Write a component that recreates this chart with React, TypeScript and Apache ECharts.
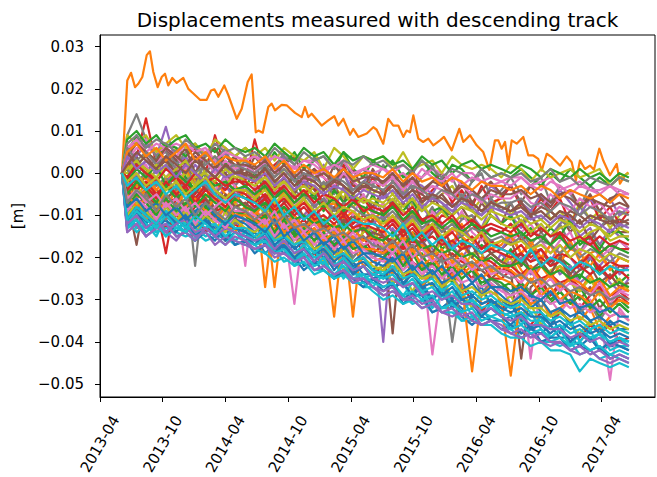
import React, { useEffect, useRef } from "react";
import * as echarts from "echarts";

const TITLE = "Displacements measured with descending track";
const Y_NAME = "[m]";
// x positions are months since 2013-04-01
const X_TICKS = [0, 6, 12, 18, 24, 30, 36, 42, 48];
const X_TICK_LABELS = ["2013-04", "2013-10", "2014-04", "2014-10", "2015-04", "2015-10", "2016-04", "2016-10", "2017-04"];
const Y_TICKS = [-0.05, -0.04, -0.03, -0.02, -0.01, 0, 0.01, 0.02, 0.03];
const Y_TICK_LABELS = ["\u22120.05", "\u22120.04", "\u22120.03", "\u22120.02", "\u22120.01", "0.00", "0.01", "0.02", "0.03"];
const COLORS = ["#1f77b4", "#ff7f0e", "#2ca02c", "#d62728", "#9467bd", "#8c564b", "#e377c2", "#7f7f7f", "#bcbd22", "#17becf"];

// acquisition dates (months since 2013-04-01) for the point band
const GRID_MONTHS = [2.1, 2.6, 3.5, 4.4, 5.4, 6.3, 7.3, 8.2, 9.1, 10.1, 11.0, 12.0, 12.9, 13.9, 14.8, 15.8, 16.7, 17.6, 18.6, 19.5, 20.5, 21.4, 22.4, 23.3, 24.2, 25.2, 26.1, 27.1, 28.0, 29.0, 29.9, 30.8, 31.8, 32.7, 33.7, 34.6, 35.6, 36.5, 37.4, 38.4, 39.3, 40.3, 41.2, 42.2, 43.1, 44.0, 45.0, 45.9, 46.9, 47.8, 48.8, 49.7, 50.6];

// the isolated point (orange, drawn as series 1)
const ORANGE_MONTHS = [2.1, 2.61, 2.97, 3.35, 3.66, 4.05, 4.47, 4.78, 5.10, 5.52, 5.90, 6.22, 6.53, 6.92, 7.34, 7.97, 8.45, 8.93, 9.57, 10.21, 10.62, 10.94, 11.32, 11.89, 12.28, 13.08, 13.56, 14.13, 14.51, 14.90, 15.15, 15.57, 16.10, 16.43, 16.74, 17.38, 17.86, 18.66, 19.30, 19.61, 19.93, 20.25, 21.21, 21.84, 22.42, 22.80, 23.28, 23.92, 24.23, 24.71, 25.52, 26.15, 26.47, 27.10, 27.58, 28.06, 28.54, 29.02, 29.34, 29.66, 29.98, 30.45, 30.93, 31.41, 31.89, 32.53, 32.91, 33.65, 34.38, 34.76, 35.40, 36.04, 36.67, 37.25, 37.79, 38.11, 38.43, 38.75, 39.06, 39.39, 39.87, 40.50, 40.98, 41.46, 41.93, 42.26, 42.74, 43.22, 44.01, 44.65, 45.13, 45.54, 45.92, 46.40, 46.88, 47.26, 47.77, 48.15, 48.79, 49.44, 49.75, 50.23, 50.54];
const ORANGE_MM = [0, 22.0, 23.8, 20.4, 21.2, 22.8, 28.0, 28.9, 24.0, 20.4, 22.8, 23.6, 20.8, 22.6, 21.4, 22.6, 20.0, 18.9, 17.4, 17.4, 19.6, 19.9, 18.1, 20.8, 18.5, 12.9, 15.3, 21.6, 23.4, 9.7, 10.1, 9.6, 15.7, 16.5, 14.9, 16.2, 16.1, 14.3, 13.3, 15.7, 13.3, 14.1, 11.3, 12.5, 13.5, 11.3, 12.9, 9.1, 10.5, 8.6, 9.4, 10.9, 10.3, 7.0, 12.9, 11.3, 11.3, 8.6, 10.1, 9.7, 13.7, 8.2, 7.4, 8.2, 6.6, 7.8, 8.6, 5.4, 10.5, 7.4, 9.0, 6.6, 5.0, 0.8, 7.8, 7.8, 5.8, 7.4, 2.2, 7.8, 7.0, 8.6, 4.2, 4.2, 3.4, 0.6, 4.6, 3.8, 1.8, 4.0, 2.6, -1.7, 3.0, 1.0, 1.8, 0.8, 5.8, 3.0, -0.5, 2.2, -2.5, -0.5, 0.2];

// band points, displacement in mm at GRID_MONTHS
const S00 = [0, -10, -13, -10, -14, -13, -12, -14, -16, -13, -14, -16, -14, -16, -15, -19, -17, -19, -17, -22, -21, -21, -24, -23, -23, -26, -25, -27, -26, -30, -28, -27, -31, -32, -30, -32, -35, -32, -35, -35, -34, -38, -37, -38, -36, -39, -39, -41, -39, -42, -41, -41, -42];
const S02 = [0, -5, -2, -4, -1, -6, -4, -1, -6, -8, -4, -7, -4, -6, -5, -9, -6, -11, -9, -6, -11, -12, -10, -14, -10, -12, -15, -11, -14, -17, -14, -16, -12, -18, -16, -15, -20, -17, -19, -21, -18, -22, -18, -21, -24, -20, -22, -25, -20, -24, -22, -26, -24];
const S03 = [0, -9, -13, -8, -11, -13, -10, -12, -9, -14, -12, -16, -12, -14, -12, -16, -19, -15, -14, -20, -19, -22, -19, -19, -24, -22, -24, -22, -26, -25, -23, -27, -30, -27, -30, -27, -30, -33, -30, -32, -31, -35, -36, -33, -36, -33, -35, -39, -36, -38, -36, -40, -39];
const S04 = [0, 3, -1, 3, 0, 4, 1, -2, 2, -1, -5, 0, 2, -3, 0, -2, -6, -2, -4, -1, -6, -4, -9, -3, -7, -5, -9, -5, -8, -4, -10, -8, -11, -8, -7, -11, -10, -13, -8, -12, -10, -13, -10, -13, -15, -12, -10, -15, -13, -17, -13, -15, -15];
const S05 = [0, -6, -17, -4, -8, -6, -4, -9, -6, -11, -8, -6, -11, -8, -13, -9, -12, -9, -14, -13, -16, -12, -15, -18, -15, -18, -15, -19, -17, -22, -17, -20, -22, -20, -24, -20, -23, -23, -25, -23, -23, -44, -27, -25, -29, -27, -25, -30, -27, -32, -29, -28, -30];
const S06 = [0, -5, -9, -11, -7, -11, -7, -9, -13, -9, -12, -8, -12, -11, -14, -10, -14, -13, -17, -15, -13, -18, -16, -21, -16, -20, -20, -18, -23, -21, -23, -20, -43, -26, -24, -28, -26, -24, -29, -27, -31, -28, -31, -28, -30, -33, -30, -33, -30, -33, -49, -32, -35];
const S07 = [0, 3, -1, -3, 1, 3, -3, -1, -22, 0, -4, -1, -5, -3, -5, -2, -4, -7, -4, -6, -3, -8, -7, -11, -5, -9, -7, -8, -12, -7, -10, -12, -8, -12, -14, -11, -10, -14, -13, -14, -12, -14, -17, -14, -17, -12, -17, -19, -14, -17, -19, -16, -18];
const S08 = [0, 5, 1, 5, 3, 1, 6, 1, -2, 3, 4, -1, 1, 4, -2, 1, -3, 1, -1, -5, -1, 1, -3, -6, -1, -3, -5, -2, -5, -3, -8, -3, -7, -5, -3, -7, -9, -6, -9, -5, -10, -7, -9, -5, -11, -9, -12, -7, -11, -9, -13, -10, -9];
const S09 = [0, -11, -14, -12, -14, -13, -14, -15, -14, -16, -15, -15, -17, -16, -17, -19, -18, -21, -20, -20, -23, -23, -25, -24, -25, -27, -27, -29, -28, -29, -31, -30, -33, -32, -32, -35, -35, -36, -35, -37, -37, -39, -38, -40, -40, -41, -40, -43, -42, -44, -43, -44, -45];
const S10 = [0, -13, -9, -12, -9, -11, -14, -11, -15, -11, -13, -15, -13, -15, -14, -17, -14, -18, -21, -17, -21, -18, -21, -24, -21, -24, -24, -25, -23, -26, -29, -26, -30, -26, -30, -33, -29, -31, -30, -33, -31, -35, -37, -35, -33, -38, -35, -40, -37, -36, -41, -39, -40];
const S11 = [0, 1, -3, -1, -5, -2, 1, -4, -1, -6, -4, -6, -3, -5, -4, -27, -8, -4, -8, -10, -7, -5, -11, -9, -12, -8, -11, -9, -12, -15, -11, -15, -10, -13, -17, -12, -16, -14, -18, -17, -14, -19, -17, -21, -17, -19, -16, -21, -19, -18, -23, -20, -21];
const S12 = [0, -8, -6, -10, -5, -8, -10, -7, -6, -11, -9, -13, -9, -11, -9, -13, -12, -10, -14, -17, -14, -17, -14, -16, -20, -17, -19, -17, -21, -23, -20, -19, -24, -22, -26, -23, -21, -27, -25, -27, -26, -29, -25, -29, -31, -28, -31, -27, -31, -34, -31, -30, -32];
const S13 = [0, 2, 4, 13, 2, 6, -1, 4, 6, 0, 9, 1, 4, -2, 8, -1, 2, 4, -1, -3, 1, -1, -4, 2, -3, -4, -1, -5, -2, -4, -1, -7, -4, -2, -7, -4, -8, -3, -7, -6, -3, -8, -10, -6, -9, -6, -12, -8, -6, -11, -8, -12, -9];
const S14 = [0, -1, -5, -4, -1, -5, -8, -4, -7, -3, -6, -9, -5, -8, -8, -6, -10, -8, -12, -10, -7, -12, -14, -10, -16, -12, -14, -40, -13, -17, -16, -13, -18, -20, -17, -20, -17, -19, -23, -19, -22, -20, -24, -22, -20, -24, -22, -26, -24, -22, -26, -28, -25];
const S15 = [0, 1, 4, -1, 2, 4, -1, 2, -1, -4, 2, 0, -3, 0, 2, -3, -5, -1, -5, -1, -4, -7, -3, -7, -2, -6, -8, -4, -8, -7, -10, -6, -5, -9, -10, -8, -12, -7, -10, -12, -7, -12, -10, -14, -12, -10, -14, -11, -16, -13, -11, -14, -14];
const S16 = [0, -3, -6, -8, -5, -8, -4, -6, -10, -6, -4, -10, -8, -9, -8, -12, -8, -12, -31, -12, -15, -11, -15, -17, -14, -12, -18, -14, -18, -20, -17, -16, -21, -20, -23, -20, -23, -20, -22, -24, -21, -25, -44, -26, -24, -28, -24, -26, -29, -26, -31, -28, -28];
const S17 = [0, 5, 2, 0, 4, 5, 0, 2, -3, 3, 0, 2, -3, 0, -2, 2, -2, -4, 0, -2, -6, -2, -5, 0, -5, -7, -3, -4, -7, -2, -7, -9, -5, -7, -10, -5, -9, -10, -6, -9, -7, -12, -9, -11, -9, -11, -13, -8, -11, -13, -10, -13, -12];
const S18 = [0, -7, -11, -9, -13, -10, -9, -12, -14, -11, -14, -9, -13, -14, -16, -13, -12, -17, -20, -17, -16, -21, -18, -23, -21, -20, -23, -22, -26, -24, -28, -24, -27, -24, -30, -28, -32, -28, -31, -31, -29, -34, -31, -36, -33, -32, -36, -38, -35, -38, -35, -37, -38];
const S19 = [0, -9, -13, -9, -12, -15, -11, -12, -15, -11, -14, -13, -16, -14, -16, -14, -19, -17, -21, -18, -18, -22, -21, -25, -22, -25, -24, -23, -27, -29, -26, -28, -30, -27, -31, -33, -30, -34, -31, -34, -33, -36, -33, -37, -39, -37, -35, -40, -37, -42, -40, -39, -41];
const S20 = [0, -11, -8, -12, -8, -10, -12, -10, -12, -9, -15, -12, -11, -14, -11, -16, -15, -18, -15, -14, -18, -20, -17, -20, -23, -20, -23, -20, -24, -27, -23, -27, -24, -26, -30, -26, -29, -27, -31, -30, -32, -30, -29, -33, -36, -32, -36, -32, -35, -38, -35, -37, -37];
const S21 = [0, -3, -6, -2, -6, -8, -4, -3, -8, -6, -9, -5, -8, -7, -10, -7, -27, -8, -11, -14, -10, -14, -34, -13, -34, -12, -16, -13, -18, -16, -14, -20, -17, -19, -22, -17, -20, -22, -20, -22, -19, -23, -26, -22, -25, -22, -24, -28, -24, -28, -24, -27, -27];
const S22 = [0, -1, 3, 1, -2, 1, 3, -1, -4, 1, -1, -3, -1, -3, 0, -4, -6, -3, -1, -6, -5, -9, -4, -7, -5, -10, -5, -10, -7, -9, -6, -12, -9, -8, -12, -10, -12, -14, -10, -12, -10, -15, -13, -16, -13, -15, -11, -17, -15, -18, -14, -14, -16];
const S23 = [0, -4, -8, -5, -8, -19, -5, -11, -8, -6, -11, -8, -12, -9, -12, -9, -12, -15, -12, -15, -11, -14, -18, -15, -17, -15, -19, -17, -21, -17, -21, -23, -21, -19, -25, -22, -25, -21, -25, -25, -23, -27, -29, -26, -29, -26, -29, -32, -29, -27, -32, -29, -31];
const S24 = [0, 6, 4, 7, 4, 11, 2, 4, 0, 5, 2, 5, 0, 2, 0, 3, 0, 4, -2, 0, -2, 2, -2, 0, -4, -2, 0, -3, 0, -6, -2, -3, -5, -1, -5, -7, -4, -7, -3, -5, -3, -7, -9, -5, -8, -4, -7, -10, -6, -9, -6, -10, -8];
const S25 = [0, -1, -4, 0, -4, -6, -4, -2, -6, -3, -9, -3, -5, -8, -4, -8, -10, -7, -5, -11, -9, -13, -8, -12, -10, -14, -11, -15, -38, -11, -15, -17, -14, -12, -18, -16, -20, -15, -19, -18, -16, -22, -19, -18, -22, -19, -24, -21, -20, -23, -25, -22, -23];
const S26 = [0, -3, 1, 2, -3, -1, 2, -3, -5, -1, -4, -1, -3, -22, -3, -6, -5, -2, -8, -5, -7, -5, -11, -8, -10, -5, -10, -7, -12, -9, -11, -14, -9, -12, -14, -9, -14, -16, -13, -14, -16, -14, -12, -16, -19, -16, -14, -19, -16, -20, -18, -16, -18];
const S27 = [0, 9, 14, 8, 4, 6, 2, 5, 7, 0, 3, 6, 0, 3, 0, 4, 1, 5, 2, -2, 4, 0, -2, 3, -1, 1, -3, 2, -2, 0, -4, -1, 2, -3, -1, -6, -2, 0, -6, -4, -1, -5, -3, -1, -7, -3, -5, -8, -3, -5, -7, -4, -5];
const S28 = [0, -6, -3, -6, -8, -4, -3, -8, -6, -10, -5, -8, -7, -10, -6, -10, -7, -12, -11, -14, -11, -10, -15, -14, -17, -14, -13, -18, -15, -20, -15, -18, -20, -16, -20, -23, -19, -19, -24, -22, -20, -25, -23, -27, -23, -22, -26, -28, -25, -29, -27, -25, -28];
const S29 = [0, -13, -10, -12, -15, -10, -13, -12, -15, -13, -12, -15, -16, -14, -17, -15, -18, -16, -22, -19, -22, -20, -25, -21, -24, -24, -27, -24, -27, -26, -30, -28, -32, -29, -31, -29, -34, -33, -34, -33, -37, -34, -37, -34, -39, -37, -41, -38, -40, -38, -42, -41, -41];
const S30 = [0, -13, -11, -15, -13, -11, -15, -14, -16, -14, -16, -13, -17, -16, -19, -17, -19, -17, -20, -23, -21, -23, -25, -23, -25, -27, -25, -28, -26, -31, -29, -29, -33, -32, -30, -34, -36, -34, -35, -37, -36, -38, -36, -40, -39, -39, -42, -41, -42, -41, -44, -43, -44];
const S31 = [0, -9, -6, -11, -9, -6, -12, -9, -13, -10, -9, -12, -14, -11, -10, -14, -13, -17, -15, -14, -18, -16, -21, -18, -17, -22, -21, -20, -24, -20, -24, -27, -23, -27, -24, -26, -47, -29, -26, -31, -48, -28, -31, -30, -34, -32, -30, -35, -32, -37, -34, -33, -35];
const S32 = [0, 5, 9, 5, 3, 7, 6, 4, 7, 4, 6, 2, 4, 6, 4, 1, 5, 2, 5, 1, 3, 4, 1, 5, 1, -1, 3, 1, 3, -1, 1, 3, 0, -2, 2, 1, -2, 1, -1, 0, -1, 1, -1, -3, 0, -2, 1, -1, -3, -1, -3, -1, -2];
const S33 = [0, -3, -6, -4, -5, -7, -6, -8, -6, -7, -9, -8, -10, -9, -11, -10, -10, -12, -13, -11, -14, -13, -12, -15, -14, -13, -16, -15, -16, -18, -16, -17, -19, -20, -19, -21, -22, -20, -21, -23, -22, -24, -22, -25, -24, -26, -25, -27, -28, -27, -29, -28, -30];
const S34 = [0, -4, 0, -3, -6, -2, 0, -5, -4, -2, -7, -3, -6, -3, -9, -5, -9, -5, -9, -11, -8, -6, -11, -9, -13, -11, -12, -10, -14, -13, -10, -17, -13, -16, -18, -13, -16, -18, -16, -18, -15, -19, -21, -18, -21, -17, -20, -23, -20, -22, -19, -24, -22];
const S35 = [0, 4, 8, 5, 2, 6, 3, 6, 0, 4, 6, 1, 4, -1, 4, 1, -1, 2, 4, -1, 1, -4, 2, -1, 1, -4, 1, -3, 0, -3, 1, -5, -2, 0, -5, -2, -7, -4, -2, -5, -3, -7, -3, -6, -8, -5, -4, -8, -5, -9, -6, -5, -8];
const S36 = [0, 6, 7, 8, 5, 6, 7, 6, 6, 5, 7, 6, 4, 3, 4, 3, 4, 3, 1, 3, 3, 1, 2, 3, 0, 1, 2, 1, 0, 2, 0, -1, 1, 0, -2, 0, 0, -2, -1, -2, -1, -1, -3, -2, -1, -4, -3, -2, -4, -4, -3, -4, -5];
const S37 = [0, -6, -9, -5, -9, -11, -7, -10, -7, -12, -10, -8, -12, -11, -13, -11, -16, -13, -12, -17, -14, -19, -16, -15, -20, -17, -20, -19, -23, -19, -22, -22, -25, -20, -40, -25, -23, -29, -25, -27, -29, -26, -28, -32, -28, -31, -28, -33, -31, -35, -31, -31, -33];
const S38 = [0, 9, 7, 9, 5, 7, 9, 6, 7, 4, 8, 6, 4, 6, 4, 6, 3, 6, 4, 3, 5, 1, 6, 4, 1, 4, 3, 4, 1, 5, 1, 2, 3, 0, 4, 2, 1, 2, 1, -1, 2, 1, -2, 1, -1, 0, 1, -1, 0, 1, -3, -1, 0];
const S39 = [0, -13, -12, -13, -14, -12, -13, -14, -13, -15, -14, -15, -16, -17, -18, -19, -21, -20, -22, -21, -24, -23, -25, -24, -26, -26, -28, -30, -29, -31, -30, -32, -31, -33, -33, -35, -34, -36, -36, -38, -39, -39, -41, -40, -42, -42, -43, -47, -44, -45, -46, -45, -46];
const S40 = [0, -12, -9, -13, -11, -14, -12, -10, -15, -13, -12, -16, -14, -15, -17, -14, -18, -17, -20, -18, -21, -19, -23, -20, -24, -22, -25, -24, -27, -26, -29, -27, -30, -28, -32, -30, -31, -34, -32, -34, -36, -33, -37, -36, -38, -36, -40, -38, -39, -42, -40, -41, -42];
const S41 = [0, 2, -3, 0, -4, -1, -5, 1, -3, -6, -2, -5, -7, -4, -6, -3, -8, -5, -9, -6, -10, -8, -7, -11, -9, -12, -10, -13, -10, -14, -11, -15, -12, -16, -13, -15, -17, -14, -18, -16, -15, -19, -16, -20, -17, -21, -18, -19, -22, -19, -23, -20, -21];
const S42 = [0, 8, 10, 7, 9, 6, 8, 9, 6, 7, 5, 8, 6, 5, 6, 4, 7, 5, 3, 6, 4, 5, 2, 5, 3, 4, 3, 4, 2, 3, 1, 4, 2, 3, 0, 2, 3, 1, 2, 1, 0, 2, 1, -1, 1, 0, -1, 1, -1, 0, -2, 0, -1];
const S43 = [0, -2, 2, 1, -2, -3, 0, -2, -5, -1, -2, -4, -1, -3, -2, -6, -3, -4, -7, -5, -3, -8, -6, -10, -7, -6, -9, -10, -7, -12, -9, -11, -13, -10, -11, -14, -12, -15, -13, -14, -12, -16, -14, -15, -17, -14, -18, -16, -15, -19, -17, -18, -18];
const S44 = [0, -14, -12, -15, -13, -14, -16, -13, -15, -14, -17, -15, -16, -17, -18, -17, -20, -19, -21, -20, -23, -22, -24, -23, -26, -25, -27, -29, -28, -30, -30, -32, -31, -33, -34, -33, -35, -36, -35, -37, -38, -39, -38, -40, -41, -40, -42, -43, -42, -44, -45, -44, -45];
const S45 = [0, -6, -2, -4, -7, -3, -5, -8, -4, -6, -9, -5, -8, -7, -9, -6, -11, -8, -10, -13, -9, -12, -15, -11, -13, -16, -14, -15, -17, -13, -18, -16, -19, -15, -20, -18, -17, -21, -19, -21, -22, -19, -23, -21, -24, -20, -25, -23, -22, -26, -24, -27, -26];
const S46 = [0, 3, 6, 5, 2, 6, 4, 1, 4, 3, 0, 3, 1, 2, 0, 3, 1, -1, 2, -2, 0, -1, -3, 0, -2, -4, -2, -3, -1, -4, -2, -5, -3, -4, -6, -3, -5, -7, -5, -6, -6, -4, -7, -8, -5, -7, -9, -6, -8, -7, -10, -8, -9];
const S47 = [0, 0, 3, 1, -1, 2, -2, 0, -3, 1, -1, -3, 0, -2, -3, -1, -4, -2, -5, -6, -3, -5, -7, -4, -8, -6, -7, -8, -6, -9, -10, -7, -11, -9, -12, -10, -11, -13, -10, -12, -13, -11, -14, -12, -15, -13, -12, -16, -14, -13, -16, -15, -15];
const S48 = [0, 7, 9, 6, 8, 7, 5, 8, 6, 4, 7, 5, 6, 4, 5, 3, 6, 4, 2, 5, 3, 4, 1, 3, 2, 4, 2, 3, 1, 2, 0, 3, 1, -1, 1, 0, -2, 1, -1, 0, -1, 0, -2, -1, 1, -2, -1, -3, -1, -2, -3, -1, -2];
const S49 = [0, -13, -11, -14, -12, -15, -13, -14, -16, -13, -15, -17, -14, -16, -17, -16, -19, -18, -21, -19, -22, -21, -24, -22, -25, -24, -26, -27, -26, -29, -28, -30, -29, -32, -31, -33, -32, -35, -34, -35, -37, -36, -38, -37, -40, -39, -41, -40, -42, -41, -43, -42, -43];
const S50 = [0, -10, -7, -9, -12, -8, -11, -13, -9, -12, -10, -14, -11, -12, -14, -12, -16, -13, -17, -15, -18, -16, -19, -17, -21, -19, -21, -22, -20, -24, -22, -25, -23, -26, -25, -28, -26, -29, -27, -29, -31, -29, -32, -30, -33, -32, -34, -33, -35, -34, -36, -35, -36];
const S51 = [0, -3, -6, -4, -7, -5, -8, -4, -7, -9, -6, -8, -10, -8, -9, -11, -8, -12, -10, -13, -11, -14, -12, -15, -13, -16, -15, -16, -18, -15, -19, -17, -20, -18, -21, -19, -22, -20, -23, -22, -23, -25, -22, -26, -24, -27, -25, -26, -28, -25, -29, -27, -28];
const S52 = [0, 5, 2, 4, 1, 3, 0, 2, 4, 1, -1, 2, 0, 1, -1, 1, -2, 0, -3, -1, -2, -4, -1, -3, -5, -2, -4, -5, -3, -6, -4, -5, -7, -5, -8, -6, -7, -9, -7, -8, -9, -7, -10, -8, -9, -11, -9, -10, -12, -10, -11, -12, -11];
const S53 = [0, -1, -4, -2, -5, -3, -1, -4, -6, -3, -5, -7, -4, -5, -7, -5, -8, -6, -9, -7, -10, -8, -11, -9, -12, -10, -12, -13, -11, -14, -12, -15, -13, -16, -14, -17, -15, -18, -16, -18, -19, -17, -20, -18, -21, -19, -20, -22, -19, -23, -21, -22, -22];
const S54 = [0, -14, -12, -15, -13, -12, -15, -14, -16, -13, -15, -17, -15, -16, -18, -17, -19, -19, -21, -20, -23, -22, -24, -23, -25, -25, -27, -28, -27, -30, -29, -31, -30, -33, -32, -34, -33, -36, -35, -36, -38, -37, -39, -38, -40, -40, -42, -41, -43, -42, -44, -43, -44];
const S55 = [0, -8, -5, -7, -10, -6, -9, -7, -11, -8, -10, -12, -9, -10, -12, -10, -14, -11, -15, -13, -16, -14, -17, -15, -18, -17, -19, -20, -18, -22, -19, -23, -21, -24, -22, -25, -23, -26, -25, -26, -28, -26, -29, -27, -30, -28, -31, -29, -32, -30, -33, -31, -33];
const S56 = [0, 6, 8, 5, 7, 6, 4, 7, 5, 6, 3, 5, 4, 3, 4, 2, 4, 3, 1, 3, 2, 0, 2, 1, -1, 1, 0, 1, -1, 0, -2, 1, -1, -2, 0, -3, -1, -2, -3, -2, -3, -1, -3, -4, -2, -3, -5, -3, -4, -5, -3, -5, -5];
const S57 = [0, 1, -2, 0, -3, -1, -4, -2, 0, -3, -5, -2, -4, -4, -5, -3, -6, -4, -7, -5, -8, -6, -9, -7, -8, -10, -10, -11, -9, -12, -10, -13, -11, -14, -12, -15, -13, -14, -16, -15, -17, -15, -18, -16, -17, -19, -17, -20, -18, -19, -21, -19, -20];
const S58 = [0, 4, 1, 3, 0, 2, -1, 2, 0, -2, 1, -1, 0, -1, -2, 0, -3, -1, -4, -2, -3, -5, -3, -4, -6, -4, -5, -6, -4, -7, -5, -8, -6, -7, -9, -7, -8, -10, -8, -9, -10, -9, -11, -10, -12, -10, -11, -13, -11, -12, -14, -12, -13];
const S59 = [0, -12, -9, -11, -13, -10, -12, -14, -11, -13, -12, -15, -13, -14, -16, -14, -17, -16, -19, -17, -20, -19, -22, -20, -23, -22, -24, -25, -24, -27, -25, -28, -27, -30, -28, -31, -30, -32, -31, -33, -34, -33, -35, -35, -37, -36, -38, -37, -39, -38, -40, -39, -40];
const S60 = [0, -11, -8, -10, -12, -9, -12, -10, -13, -11, -14, -12, -13, -14, -15, -13, -17, -15, -18, -16, -19, -18, -21, -19, -22, -21, -23, -24, -23, -26, -24, -27, -26, -29, -27, -30, -29, -31, -30, -32, -33, -32, -34, -34, -36, -35, -37, -36, -38, -37, -39, -38, -39];
const S61 = [0, -5, -8, -6, -9, -7, -10, -8, -6, -9, -11, -8, -10, -10, -11, -13, -10, -14, -12, -15, -13, -16, -14, -17, -15, -18, -18, -19, -17, -20, -18, -22, -20, -23, -21, -24, -22, -25, -23, -25, -26, -28, -25, -29, -27, -30, -28, -29, -31, -28, -32, -30, -31];
const S62 = [0, 4, 7, 5, 3, 6, 4, 2, 5, 3, 1, 4, 2, 2, 1, 3, 0, 2, -1, 1, -1, 0, -2, 1, -2, -1, -1, -2, 0, -3, -1, -4, -2, -3, -5, -3, -4, -6, -4, -5, -5, -4, -6, -5, -7, -5, -6, -8, -6, -7, -8, -7, -8];
const S63 = [0, -4, -1, -3, -6, -2, -5, -3, -7, -4, -6, -8, -5, -6, -8, -6, -9, -7, -10, -8, -11, -10, -12, -10, -13, -12, -13, -14, -12, -15, -13, -16, -15, -17, -16, -18, -17, -19, -18, -19, -20, -19, -21, -20, -22, -21, -23, -22, -24, -22, -25, -23, -25];
const S64 = [0, -12, -10, -13, -11, -14, -12, -11, -14, -13, -15, -13, -14, -15, -16, -15, -18, -16, -19, -18, -21, -19, -22, -21, -23, -22, -25, -26, -25, -27, -26, -29, -28, -30, -29, -31, -31, -33, -32, -34, -35, -34, -36, -36, -37, -37, -39, -38, -40, -39, -41, -40, -41];
const S65 = [0, -2, 1, -1, 2, -3, 0, -2, -4, -1, -3, -2, -4, -3, -5, -3, -6, -4, -7, -5, -6, -8, -6, -9, -7, -8, -9, -10, -8, -11, -9, -12, -11, -13, -11, -14, -12, -13, -15, -14, -15, -14, -16, -15, -17, -15, -18, -16, -17, -19, -17, -18, -19];
const S66 = [0, -9, -6, -8, -11, -7, -10, -8, -12, -9, -11, -13, -10, -11, -13, -11, -15, -12, -16, -14, -17, -15, -18, -16, -19, -18, -20, -21, -19, -23, -21, -24, -22, -25, -23, -26, -25, -27, -26, -28, -29, -28, -30, -29, -31, -30, -32, -31, -33, -32, -34, -33, -35];
const S67 = [0, 6, 3, 5, 2, 4, 1, 3, 0, 2, 4, 1, 2, 1, 0, 2, -1, 1, -2, 0, -1, -3, -1, -2, -4, -2, -3, -4, -2, -5, -3, -4, -6, -4, -5, -7, -5, -6, -8, -7, -7, -6, -8, -7, -9, -7, -8, -10, -8, -9, -11, -9, -10];
const S68 = [0, 1, 3, 0, 2, -1, 1, 3, -1, 0, -2, 1, -1, -1, -2, -1, -3, -2, -4, -3, -5, -3, -6, -4, -5, -7, -6, -7, -5, -8, -6, -9, -7, -8, -10, -8, -9, -11, -9, -10, -11, -10, -12, -11, -13, -11, -12, -14, -12, -13, -15, -13, -14];
const S69 = [0, -11, -8, -10, -12, -9, -11, -13, -10, -12, -14, -11, -13, -13, -15, -13, -16, -15, -17, -16, -19, -17, -20, -19, -21, -20, -23, -24, -22, -25, -24, -26, -25, -28, -26, -29, -28, -30, -29, -31, -32, -31, -33, -33, -35, -34, -36, -35, -37, -36, -38, -37, -38];
const S70 = [0, -8, -6, -9, -7, -10, -8, -11, -9, -7, -10, -12, -10, -11, -12, -14, -11, -15, -13, -16, -14, -17, -15, -18, -16, -19, -19, -20, -21, -19, -23, -21, -24, -22, -25, -23, -26, -24, -27, -27, -28, -27, -29, -30, -28, -31, -30, -32, -31, -33, -32, -34, -34];
const S71 = [0, 5, 7, 4, 6, 3, 5, 7, 3, 5, 2, 4, 3, 3, 2, 4, 1, 3, 0, 2, 0, 1, -1, 1, -1, 0, 0, -1, 1, -2, 0, -2, -1, -3, -1, -2, -4, -2, -3, -3, -4, -3, -5, -3, -4, -6, -4, -5, -6, -5, -7, -5, -6];
const S72 = [0, -5, -2, -4, -7, -3, -6, -4, -8, -5, -7, -9, -6, -8, -9, -7, -10, -8, -11, -10, -12, -11, -13, -12, -14, -13, -15, -16, -14, -17, -15, -18, -17, -19, -18, -20, -19, -21, -20, -22, -22, -21, -23, -22, -24, -23, -25, -24, -26, -25, -27, -26, -27];
const S73 = [0, -1, 2, 0, -2, 1, -1, -3, 0, -2, -1, -3, -2, -2, -4, -2, -5, -3, -6, -4, -7, -5, -6, -8, -6, -9, -8, -9, -7, -10, -8, -11, -10, -12, -10, -13, -11, -13, -12, -13, -14, -12, -15, -13, -15, -14, -16, -15, -17, -15, -17, -16, -17];
const S74 = [0, -10, -7, -9, -12, -8, -11, -9, -13, -10, -12, -14, -11, -13, -14, -12, -16, -14, -17, -15, -18, -17, -20, -18, -21, -20, -22, -23, -21, -24, -23, -25, -24, -27, -25, -28, -27, -29, -28, -30, -31, -30, -32, -32, -34, -33, -35, -34, -36, -35, -37, -36, -37];
const S75 = [0, -3, -1, -4, -2, -5, -3, -6, -4, -2, -5, -7, -5, -6, -7, -9, -6, -10, -8, -11, -9, -12, -10, -13, -11, -12, -12, -13, -15, -12, -16, -14, -17, -15, -18, -16, -17, -19, -17, -18, -19, -21, -18, -22, -20, -21, -23, -21, -22, -24, -22, -23, -23];
const S76 = [0, -6, -4, -7, -5, -8, -6, -9, -7, -10, -8, -6, -9, -9, -10, -12, -9, -13, -11, -14, -12, -15, -13, -16, -14, -17, -16, -17, -19, -16, -20, -18, -21, -19, -22, -20, -23, -21, -24, -23, -24, -26, -23, -27, -25, -28, -26, -27, -29, -26, -30, -28, -29];
const S77 = [0, -7, -4, -6, -9, -5, -8, -6, -10, -7, -9, -11, -8, -9, -11, -9, -12, -10, -13, -12, -14, -13, -15, -14, -16, -15, -17, -18, -16, -19, -17, -20, -19, -21, -20, -22, -21, -23, -22, -24, -25, -24, -26, -25, -27, -26, -28, -27, -29, -28, -30, -29, -30];
const S78 = [0, -2, 0, -3, -1, -4, -2, -5, -3, -1, -4, -6, -4, -4, -6, -4, -7, -5, -8, -6, -9, -7, -10, -8, -9, -11, -10, -12, -10, -13, -11, -14, -12, -15, -13, -14, -16, -14, -17, -16, -17, -16, -18, -17, -19, -17, -20, -18, -19, -21, -19, -20, -21];
const S79 = [0, 2, 5, 3, 1, 4, 2, 0, 3, 1, -1, 2, 0, 0, -1, 1, -2, 0, -3, -1, -2, -4, -2, -3, -5, -3, -4, -5, -3, -6, -4, -7, -5, -6, -8, -6, -7, -9, -7, -8, -9, -8, -10, -9, -11, -9, -10, -12, -10, -11, -12, -11, -12];

const FONT = "DejaVu Sans";

export default function App() {
  const ref = useRef<HTMLDivElement | null>(null);

  useEffect(() => {
    if (!ref.current) return;
    const chart = echarts.init(ref.current, undefined, { renderer: "svg" });

    const toPairs = (months: number[], mm: number[]) => {
      const out: number[][] = [];
      for (let k = 0; k < mm.length && k < months.length; k++) out.push([months[k], mm[k] / 1000]);
      return out;
    };

    // position in this list sets the colour (matplotlib cycle) and the drawing order
    const band = [
      S00, null, S02, S03, S04, S05, S06, S07, S08, S09,
      S10, S11, S12, S13, S14, S15, S16, S17, S18, S19,
      S20, S21, S22, S23, S24, S25, S26, S27, S28, S29,
      S30, S31, S32, S33, S34, S35, S36, S37, S38, S39,
      S40, S41, S42, S43, S44, S45, S46, S48, S47, S49,
      S50, S51, S55, S53, S54, S52, S56, S57, S74, S59,
      S60, S61, S65, S63, S64, S62, S66, S67, S68, S69,
      S70, S71, S72, S73, S58, S79, S76, S77, S78, S75,
    ];

    const series = band.map((vals, i) => {
      const data = vals ? toPairs(GRID_MONTHS, vals) : toPairs(ORANGE_MONTHS, ORANGE_MM);
      const color = COLORS[i % 10];
      return {
        type: "line",
        data,
        showSymbol: false,
        symbol: "none",
        silent: true,
        lineStyle: { width: 2.2, color, join: "round" },
        itemStyle: { color },
        emphasis: { disabled: true },
      };
    });

    const xLabel = (v: number) => {
      const k = X_TICKS.indexOf(v);
      return k >= 0 ? X_TICK_LABELS[k] : "";
    };
    const yLabel = (v: number) => {
      let k = -1;
      for (let j = 0; j < Y_TICKS.length; j++) if (Math.abs(Y_TICKS[j] - v) < 1e-9) k = j;
      return k >= 0 ? Y_TICK_LABELS[k] : "";
    };

    chart.setOption({
      animation: false,
      backgroundColor: "#ffffff",
      title: {
        text: TITLE,
        left: 372.5,
        top: 5,
        textAlign: "center",
        textStyle: { fontFamily: FONT, fontSize: 20, fontWeight: "normal", color: "#000" },
      },
      grid: {
        left: 100, top: 35, width: 555, height: 362,
        outerBoundsMode: "none", containLabel: false,
        show: true, borderColor: "#000", borderWidth: 1, backgroundColor: "transparent",
      },
      xAxis: {
        type: "value",
        min: 0,
        max: 53.1,
        splitLine: { show: false },
        axisLine: { show: true, onZero: false, lineStyle: { color: "#000", width: 1 } },
        axisTick: { show: true, length: 5, customValues: X_TICKS, lineStyle: { color: "#000", width: 1 } },
        axisLabel: {
          customValues: X_TICKS,
          formatter: xLabel,
          rotate: 60,
          align: "center",
          verticalAlign: "middle",
          margin: 47,
          fontFamily: FONT,
          fontSize: 15,
          color: "#000",
        },
      },
      yAxis: {
        type: "value",
        min: -0.05308,
        max: 0.03277,
        name: Y_NAME,
        nameLocation: "middle",
        nameGap: 75,
        nameTextStyle: { fontFamily: FONT, fontSize: 15, color: "#000" },
        splitLine: { show: false },
        axisLine: { show: true, onZero: false, lineStyle: { color: "#000", width: 1 } },
        axisTick: { show: true, length: 5, customValues: Y_TICKS, lineStyle: { color: "#000", width: 1 } },
        axisLabel: {
          customValues: Y_TICKS,
          formatter: yLabel,
          margin: 16,
          fontFamily: FONT,
          fontSize: 15,
          color: "#000",
        },
      },
      series,
    });

    return () => chart.dispose();
  }, []);

  return (
    <div
      ref={ref}
      style={{ position: "fixed", left: 0, top: 0, width: 657, height: 477, background: "#fff" }}
    />
  );
}
